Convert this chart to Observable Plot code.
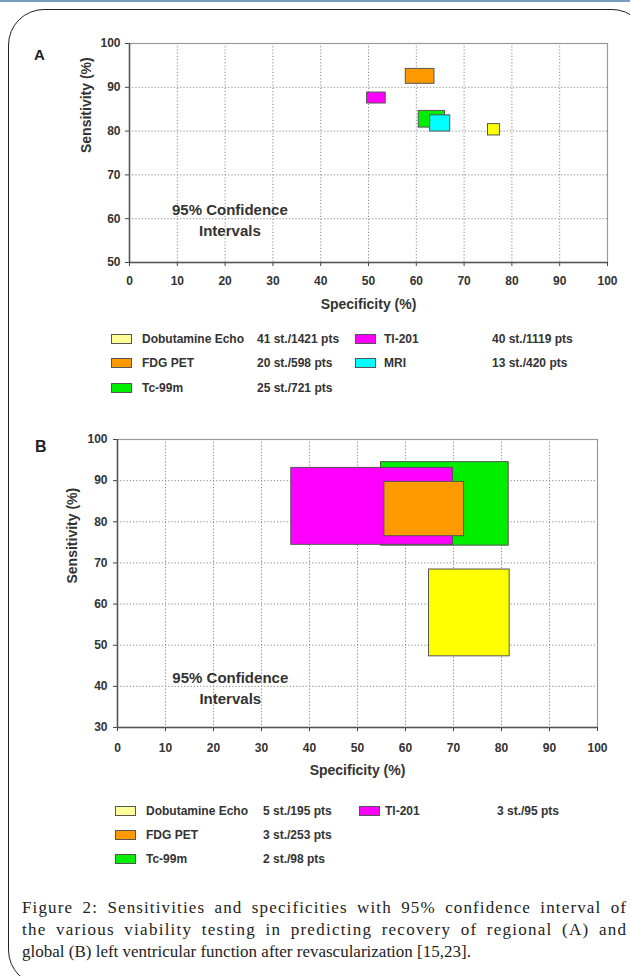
<!DOCTYPE html>
<html>
<head>
<meta charset="utf-8">
<script src="https://cdn.jsdelivr.net/npm/d3@7"></script>
<script src="https://cdn.jsdelivr.net/npm/@observablehq/plot@0.6"></script>
<style>
  html, body { margin: 0; padding: 0; background: #fff; }
  #page { position: relative; width: 630px; height: 976px; overflow: hidden; background: #fff; font-family: "Liberation Sans", Arial, sans-serif; }
  .abs { position: absolute; }
  #topstrip { left: 0; top: 0; width: 630px; height: 2px; background: #7a9ec2; }
  #border { left: 8px; top: 9px; width: 640px; height: 977px; border: 1.5px solid #222; border-radius: 36px; box-sizing: border-box; }
  .panel { font-weight: bold; color: #222; }
  .leg { position: absolute; font-size: 12px; font-weight: bold; color: #333; line-height: 14px; white-space: nowrap; }
  .sw { position: absolute; width: 21px; height: 10px; border: 1px solid #555; box-sizing: border-box; }
  #caption { left: 22px; top: 897px; width: 604px; font-family: "Liberation Serif", "Times New Roman", serif; font-size: 17px; line-height: 22px; color: #222; }
  #caption div { white-space: nowrap; }
  #caption span { display: inline-block; white-space: nowrap; }
</style>
</head>
<body>
<div id="page">
  <div id="topstrip" class="abs"></div>
  <div id="border" class="abs"></div>
  <div id="chartA" class="abs" style="left:0;top:0"></div>
  <div id="chartB" class="abs" style="left:0;top:400px"></div>
  <div class="abs panel" style="left:34px;top:46px;font-size:15px">A</div>
  <div class="abs panel" style="left:35px;top:438px;font-size:16px">B</div>
  <div id="legA"></div>
  <div id="legB"></div>
  <div id="caption" class="abs"></div>
</div>
<script>
// ---------- data ----------
const methods = ["Dobutamine Echo", "FDG PET", "Tc-99m", "Tl-201", "MRI"];
const methodColors = ["#ffff00", "#ff9900", "#00ee00", "#ff00ff", "#00ffff"];
const swatchColors = ["#ffff99", "#ff9900", "#00ee00", "#ff00ff", "#00ffff"];

const xTicks = [0, 10, 20, 30, 40, 50, 60, 70, 80, 90, 100];
const yTicksA = [50, 60, 70, 80, 90, 100];
const yTicksB = [30, 40, 50, 60, 70, 80, 90, 100];

// Panel A (regional function) 95% CI boxes
const aMethod = ["Dobutamine Echo", "FDG PET", "Tc-99m", "MRI", "Tl-201"];
const aSpecLo = [75.0, 57.8, 60.5, 62.9, 49.7];
const aSpecHi = [77.5, 63.8, 66.0, 67.1, 53.6];
const aSensLo = [79.0, 90.8, 80.8, 79.9, 86.3];
const aSensHi = [81.6, 94.2, 84.6, 83.6, 88.8];

// Panel B (global function) 95% CI boxes
const bMethod = ["Tc-99m", "Tl-201", "FDG PET", "Dobutamine Echo"];
const bSpecLo = [54.9, 36.2, 55.6, 64.9];
const bSpecHi = [81.5, 69.9, 72.2, 81.7];
const bSensLo = [74.2, 74.4, 76.5, 47.3];
const bSensHi = [94.5, 93.1, 89.7, 68.4];

// Legends
const legAName = ["Dobutamine Echo", "FDG PET", "Tc-99m", "Tl-201", "MRI"];
const legACount = ["41 st./1421 pts", "20 st./598 pts", "25 st./721 pts", "40 st./1119 pts", "13 st./420 pts"];
const legBName = ["Dobutamine Echo", "FDG PET", "Tc-99m", "Tl-201"];
const legBCount = ["5 st./195 pts", "3 st./253 pts", "2 st./98 pts", "3 st./95 pts"];

const noteText = "95% Confidence\nIntervals";
const xTitle = "Specificity (%)";
const yTitle = "Sensitivity (%)";
const captionLines = [
  "Figure 2: Sensitivities and specificities with 95% confidence interval of",
  "the various viability testing in predicting recovery of regional (A) and",
  "global (B) left ventricular function after revascularization [15,23]."
];

// ---------- build ----------
function rows(m, sl, sh, el, eh) {
  return m.map((d, i) => ({method: d, x1: sl[i], x2: sh[i], y1: el[i], y2: eh[i]}));
}
const dataA = rows(aMethod, aSpecLo, aSpecHi, aSensLo, aSensHi);
const dataB = rows(bMethod, bSpecLo, bSpecHi, bSensLo, bSensHi);

function chart(opts) {
  const {data, yDomain, yTicks, height, mt, mb, ml, mr, note, xPad, yPad, yTitleDx, xTitleDy} = opts;
  return Plot.plot({
    width: 630, height,
    marginTop: mt, marginBottom: mb, marginLeft: ml, marginRight: mr,
    x: {domain: [0, 100]},
    y: {domain: yDomain},
    color: {domain: methods, range: methodColors},
    style: {fontFamily: "'Liberation Sans', Arial, sans-serif", fontSize: "12px", fontWeight: "bold", color: "#333", background: "transparent", overflow: "visible"},
    marks: [
      Plot.gridX(xTicks, {stroke: "#888", strokeOpacity: 1, strokeDasharray: "1.2,2"}),
      Plot.gridY(yTicks, {stroke: "#888", strokeOpacity: 1, strokeDasharray: "1.2,2"}),
      Plot.frame({stroke: "#999", strokeWidth: 1.2}),
      Plot.rect(data, {x1: "x1", x2: "x2", y1: "y1", y2: "y2", fill: "method", stroke: "#555", strokeWidth: 1}),
      Plot.text([note.text], {x: note.x, y: note.y, fontSize: 15, fontWeight: "bold", lineHeight: 1.4, fill: "#333"}),
      Plot.axisX(xTicks, {tickSize: 4, tickPadding: xPad, label: null, stroke: "#444"}),
      Plot.axisY(yTicks, {tickSize: 4, tickPadding: yPad, label: null, stroke: "#444"}),
      Plot.ruleX([0], {stroke: "#555", strokeWidth: 1.5}),
      Plot.ruleY([yDomain[0]], {stroke: "#555", strokeWidth: 1.5}),
      Plot.text([xTitle], {frameAnchor: "bottom", dy: xTitleDy, fontSize: 14, fontWeight: "bold", fill: "#333"}),
      Plot.text([yTitle], {frameAnchor: "left", dx: yTitleDx, rotate: -90, fontSize: 14, fontWeight: "bold", fill: "#333"})
    ]
  });
}

document.getElementById("chartA").appendChild(chart({
  data: dataA, yDomain: [50, 100], yTicks: yTicksA, height: 330,
  mt: 43, mb: 68, ml: 129, mr: 23,
  note: {text: noteText, x: 21, y: 60}, xPad: 10, yPad: 5, yTitleDx: -43, xTitleDy: 46
}));
document.getElementById("chartB").appendChild(chart({
  data: dataB, yDomain: [30, 100], yTicks: yTicksB, height: 400,
  mt: 39, mb: 73, ml: 117, mr: 33,
  note: {text: noteText, x: 23.5, y: 40}, xPad: 12, yPad: 6, yTitleDx: -45, xTitleDy: 47
}));

function legend(containerId, names, counts, cfg) {
  const el = document.getElementById(containerId);
  names.forEach((n, i) => {
    const col = i < 3 ? 0 : 1;
    const row = col === 0 ? i : i - 3;
    const cy = cfg.rows[row];
    const c = cfg.cols[col];
    const sw = document.createElement("div");
    sw.className = "sw";
    sw.style.left = c.sw + "px";
    sw.style.top = (cy - 5) + "px";
    sw.style.background = swatchColors[methods.indexOf(n)];
    el.appendChild(sw);
    const t = document.createElement("div");
    t.className = "leg";
    t.style.left = c.label + "px";
    t.style.top = (cy - 7) + "px";
    t.textContent = n;
    el.appendChild(t);
    const k = document.createElement("div");
    k.className = "leg";
    k.style.left = c.count + "px";
    k.style.top = (cy - 7) + "px";
    k.textContent = counts[i];
    el.appendChild(k);
  });
}
legend("legA", legAName, legACount, {rows: [339, 363, 388], cols: [{sw: 111, label: 142, count: 257}, {sw: 355, label: 384, count: 492}]});
legend("legB", legBName, legBCount, {rows: [811, 835, 859], cols: [{sw: 115, label: 146, count: 263}, {sw: 359, label: 385, count: 497}]});

// caption: lines 1-2 fill the width by spreading letters and words a little
const cap = document.getElementById("caption");
const capWidth = 604;
captionLines.forEach((l, i) => {
  const d = document.createElement("div");
  const s = document.createElement("span");
  s.textContent = l;
  d.appendChild(s);
  cap.appendChild(d);
  if (i < 2) {
    const natural = s.getBoundingClientRect().width;
    const extra = capWidth - natural;
    if (extra > 0) {
      const spaces = (l.match(/ /g) || []).length;
      const wordPart = Math.min(extra * 0.4, spaces * 4);
      s.style.wordSpacing = (wordPart / spaces) + "px";
      s.style.letterSpacing = ((extra - wordPart) / (l.length - 1)) + "px";
    }
  }
});
</script>
</body>
</html>
